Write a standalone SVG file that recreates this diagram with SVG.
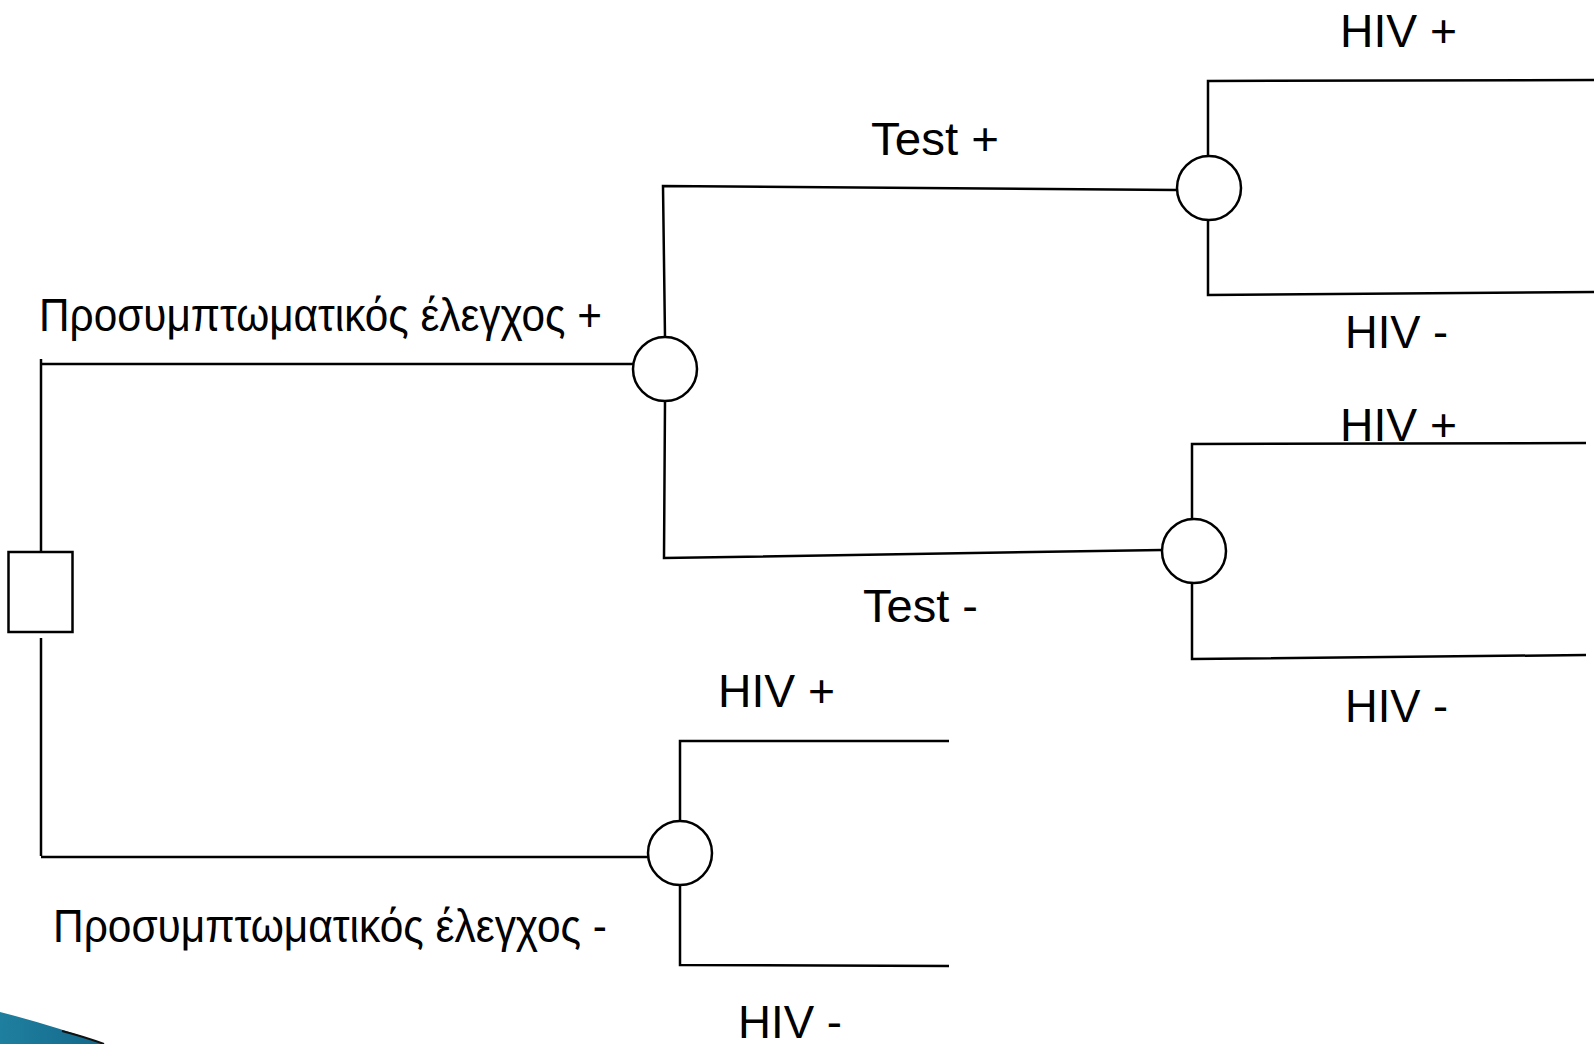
<svg xmlns="http://www.w3.org/2000/svg" width="1594" height="1044" viewBox="0 0 1594 1044">
<style>
.ln{stroke:#000;stroke-width:2.5;fill:none;stroke-linecap:butt}
.nd{stroke:#000;stroke-width:2.5;fill:#fff}
.t{font-family:"Liberation Sans",Arial,sans-serif;font-size:46px;fill:#000}
</style>
<defs>
<linearGradient id="sw" x1="0" y1="0" x2="1" y2="0">
<stop offset="0" stop-color="#1f7f9f"/>
<stop offset="1" stop-color="#13688a"/>
</linearGradient>
</defs>
<rect width="1594" height="1044" fill="#fff"/>
<path d="M0,1012 Q55,1026 104,1044 L0,1044 Z" fill="url(#sw)"/>
<path d="M62,1031 Q85,1037 104,1044" stroke="#111" stroke-width="2" fill="none"/>
<g id="connectors">
<polyline class="ln" points="41,359 41,552"/>
<polyline class="ln" points="41,638 41,856"/>
<polyline class="ln" points="41,364 634,364"/>
<polyline class="ln" points="41,857 648,857"/>
<polyline class="ln" points="665,337 663,186 1177,190"/>
<polyline class="ln" points="665,401 664,558 1162,550"/>
<polyline class="ln" points="1208,156 1208,81 1594,80"/>
<polyline class="ln" points="1208,220 1208,295 1594,292"/>
<polyline class="ln" points="1192,519 1192,444 1586,443"/>
<polyline class="ln" points="1192,583 1192,659 1586,655"/>
<polyline class="ln" points="680,821 680,741 949,741"/>
<polyline class="ln" points="680,885 680,965 949,966"/>
</g>
<g id="root"><rect class="nd" x="8.5" y="552" width="64" height="80"/></g>
<g id="c1"><circle class="nd" cx="665" cy="369" r="32"/></g>
<g id="c2"><circle class="nd" cx="1209" cy="188" r="32"/></g>
<g id="c3"><circle class="nd" cx="1194" cy="551" r="32"/></g>
<g id="c4"><circle class="nd" cx="680" cy="853" r="32"/></g>
<g id="labels">
<text class="t" x="39" y="331" textLength="563" lengthAdjust="spacingAndGlyphs">Προσυμπτωματικός έλεγχος +</text>
<text class="t" x="53" y="942" textLength="554" lengthAdjust="spacingAndGlyphs">Προσυμπτωματικός έλεγχος -</text>
<text class="t" x="871" y="155" textLength="128" lengthAdjust="spacingAndGlyphs">Test +</text>
<text class="t" x="863" y="622" textLength="115" lengthAdjust="spacingAndGlyphs">Test -</text>
<text class="t" x="1340" y="47" textLength="117" lengthAdjust="spacingAndGlyphs">HIV +</text>
<text class="t" x="1345" y="348" textLength="103" lengthAdjust="spacingAndGlyphs">HIV -</text>
<text class="t" x="1340" y="441" textLength="117" lengthAdjust="spacingAndGlyphs">HIV +</text>
<text class="t" x="1345" y="722" textLength="103" lengthAdjust="spacingAndGlyphs">HIV -</text>
<text class="t" x="718" y="707" textLength="117" lengthAdjust="spacingAndGlyphs">HIV +</text>
<text class="t" x="738" y="1038" textLength="104" lengthAdjust="spacingAndGlyphs">HIV -</text>
</g>
</svg>
